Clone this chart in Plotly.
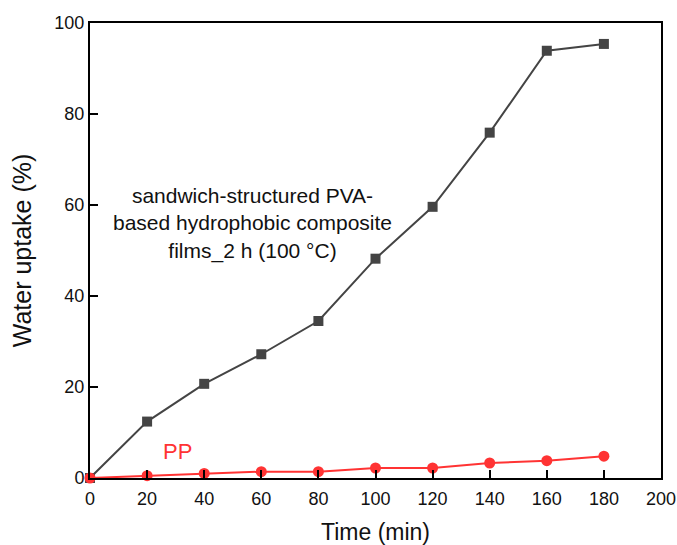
import plotly.graph_objects as go

time = [0, 20, 40, 60, 80, 100, 120, 140, 160, 180]
composite = [0, 12.4, 20.7, 27.2, 34.5, 48.2, 59.6, 75.9, 93.9, 95.4]
pp = [0, 0.5, 1.0, 1.4, 1.4, 2.2, 2.2, 3.3, 3.8, 4.8]
x_ticks = [0, 20, 40, 60, 80, 100, 120, 140, 160, 180, 200]
y_ticks = [0, 20, 40, 60, 80, 100]

fig = go.Figure()
fig.add_trace(go.Scatter(x=time, y=composite, mode="lines+markers",
                         line=dict(color="#444444", width=2),
                         marker=dict(symbol="square", size=10, color="#444444"),
                         cliponaxis=False, showlegend=False))
fig.add_trace(go.Scatter(x=time, y=pp, mode="lines+markers",
                         line=dict(color="#ff3333", width=2),
                         marker=dict(symbol="circle", size=11, color="#ff3333"),
                         cliponaxis=False, showlegend=False))

fig.add_annotation(x=56.8, y=56.0, xref="x", yref="y",
                   text="sandwich-structured PVA-<br>based hydrophobic composite<br>films_2 h (100 °C)",
                   showarrow=False, align="center",
                   font=dict(size=21, color="#111111"))
fig.add_annotation(x=30.5, y=5.9, xref="x", yref="y", text="PP", showarrow=False,
                   font=dict(size=22, color="#ff3333"))

axis_common = dict(showline=True, linecolor="black", linewidth=2, mirror=True,
                   ticks="inside", ticklen=8, tickwidth=2, tickcolor="black",
                   showgrid=False, zeroline=False, automargin=False,
                   tickfont=dict(size=18, color="#111111"))
fig.update_xaxes(range=[0, 200], tickvals=x_ticks, ticklabelstandoff=3,
                 title=dict(text="Time (min)", font=dict(size=23, color="#111111"), standoff=18),
                 **axis_common)
fig.update_yaxes(range=[0, 100], tickvals=y_ticks,
                 title=dict(text="Water uptake (%)", font=dict(size=25, color="#111111"), standoff=16),
                 **axis_common)

fig.update_layout(width=677, height=545,
                  margin=dict(l=90, r=16, t=23, b=67),
                  plot_bgcolor="white", paper_bgcolor="white",
                  font=dict(family="Liberation Sans, Arial, sans-serif"))

fig.write_html("out.html", config={"displayModeBar": False},
               post_script="document.body.style.margin='0';document.body.style.overflow='hidden';")
